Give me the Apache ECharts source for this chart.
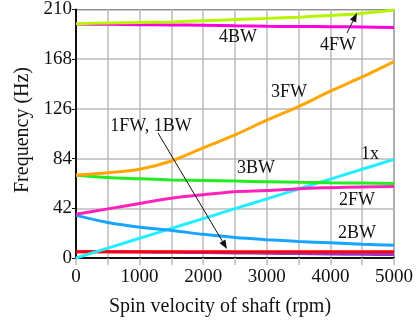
<!DOCTYPE html>
<html>
<head>
<meta charset="utf-8">
<script src="https://cdn.jsdelivr.net/npm/echarts@6/dist/echarts.min.js"></script>
<style>
html,body{margin:0;padding:0;background:#fff;}
#c{width:419px;height:327px;}
</style>
</head>
<body>
<div id="c"></div>
<script>
var rpm = [0, 500, 1000, 1500, 2000, 2500, 3000, 3500, 4000, 4500, 5000];
var yTicks = [0, 42, 84, 126, 168, 210];
var xTicks = [0, 1000, 2000, 3000, 4000, 5000];

var fw4 = [198, 198.5, 199, 199.5, 200.5, 201.5, 202.5, 203.5, 205, 206.7, 209.5];
var bw4 = [197.8, 197.5, 197.2, 197, 196.7, 196.2, 195.8, 195.6, 195.5, 195.2, 194.8];
var fw3 = [70, 72, 75, 82, 93, 104, 116.5, 128, 141, 153, 166];
var bw3 = [70, 68, 67, 66, 65.5, 65, 64.5, 64, 63.6, 63.3, 63];
var fw2 = [37, 41.5, 46, 50.5, 53.5, 56, 57, 58.6, 59.4, 60, 60.5];
var bw2 = [36, 30, 26, 23.3, 20, 17.3, 15.5, 14, 12.8, 11.7, 10.8];
var x1 = [0, 8.33, 16.67, 25, 33.33, 41.67, 50, 58.33, 66.67, 75, 83.33];
var fw1 = [5.3, 5.3, 5.3, 5.3, 5.3, 5.3, 5.3, 5.3, 5.3, 5.3, 5.3];
var bw1 = [5.3, 5.2, 5.0, 4.8, 4.6, 4.3, 4.0, 3.7, 3.4, 3.1, 2.9];

var names = ['1BW', '1FW', '1x', '2BW', '2FW', '3BW', '3FW', '4BW', '4FW'];
var values = [bw1, fw1, x1, bw2, fw2, bw3, fw3, bw4, fw4];
var colors = ['#9933cc', '#ff0000', '#22eeff', '#19a5ff', '#ff22bb', '#22ee22', '#ffa500', '#ff00dd', '#b5f500'];

var FONT = '"Liberation Serif", "DejaVu Serif", serif';

function pairs(arr) { return rpm.map(function (r, i) { return [r, arr[i]]; }); }

var series = names.map(function (n, k) {
  return {
    name: n, type: 'line', data: pairs(values[k]), smooth: 0.3,
    showSymbol: false, symbol: 'none',
    lineStyle: { color: colors[k], width: 3 }, z: 3 + k
  };
});

var chart = echarts.init(document.getElementById('c'), null, { renderer: 'canvas' });

function txt(x, y, s, extra) {
  var o = {
    type: 'text', x: x, y: y, z: 100,
    style: { text: s, font: '18px ' + FONT, fill: '#111', align: 'center', verticalAlign: 'middle' }
  };
  if (extra) for (var k in extra) o[k] = extra[k];
  return o;
}
function arrow(x1, y1, x2, y2) {
  var dx = x2 - x1, dy = y2 - y1, L = Math.sqrt(dx * dx + dy * dy);
  var ux = dx / L, uy = dy / L, hl = 9, hw = 3.5;
  var bx = x2 - ux * hl, by = y2 - uy * hl;
  return [
    { type: 'line', z: 100, shape: { x1: x1, y1: y1, x2: bx, y2: by }, style: { stroke: '#111', lineWidth: 1 } },
    { type: 'polygon', z: 100, shape: { points: [[x2, y2], [bx - uy * hw, by + ux * hw], [bx + uy * hw, by - ux * hw]] }, style: { fill: '#111' } }
  ];
}

var graphics = [
  txt(220, 307, 'Spin velocity of shaft (rpm)', null),
  { type: 'text', x: 23, y: 130, rotation: Math.PI / 2, z: 100,
    style: { text: 'Frequency (Hz)', font: '20px ' + FONT, fill: '#111', align: 'center', verticalAlign: 'middle' } },
  txt(238, 37, '4BW'),
  txt(338, 45, '4FW'),
  txt(289, 92, '3FW'),
  txt(370, 154, '1x'),
  txt(256, 168, '3BW'),
  txt(357, 200, '2FW'),
  txt(357, 233, '2BW'),
  txt(151, 126, '1FW, 1BW')
].concat(arrow(347, 33, 357, 13)).concat(arrow(158, 133, 227, 249));
graphics[0].style.font = '20px ' + FONT;

chart.setOption({
  animation: false,
  backgroundColor: '#fff',
  grid: { left: 76, right: 25, top: 6, bottom: 69, show: true, borderColor: '#111', borderWidth: 1, backgroundColor: 'transparent' },
  xAxis: {
    type: 'value', min: 0, max: 5000, interval: 500,
    axisLine: { show: true, onZero: false, lineStyle: { color: '#111', width: 2 } },
    axisTick: { show: true, length: 7, lineStyle: { color: '#bbb', width: 1.5 } },
    splitLine: { show: true, lineStyle: { color: '#bbb', width: 1.5 } },
    axisLabel: {
      margin: 10, fontFamily: FONT, fontSize: 19, color: '#111',
      formatter: function (v) { return xTicks.indexOf(v) >= 0 ? String(v) : ''; }
    }
  },
  yAxis: {
    type: 'value', min: 0, max: 210, interval: 42,
    axisLine: { show: true, onZero: false, lineStyle: { color: '#111', width: 2 } },
    axisTick: { show: true, length: 4, lineStyle: { color: '#111', width: 1 } },
    splitLine: { show: true, lineStyle: { color: '#bbb', width: 1.5 } },
    axisLabel: {
      margin: 4, fontFamily: FONT, fontSize: 19, color: '#111',
      formatter: function (v) { return yTicks.indexOf(v) >= 0 ? String(v) : ''; }
    }
  },
  series: series,
  graphic: graphics
});
</script>
</body>
</html>
